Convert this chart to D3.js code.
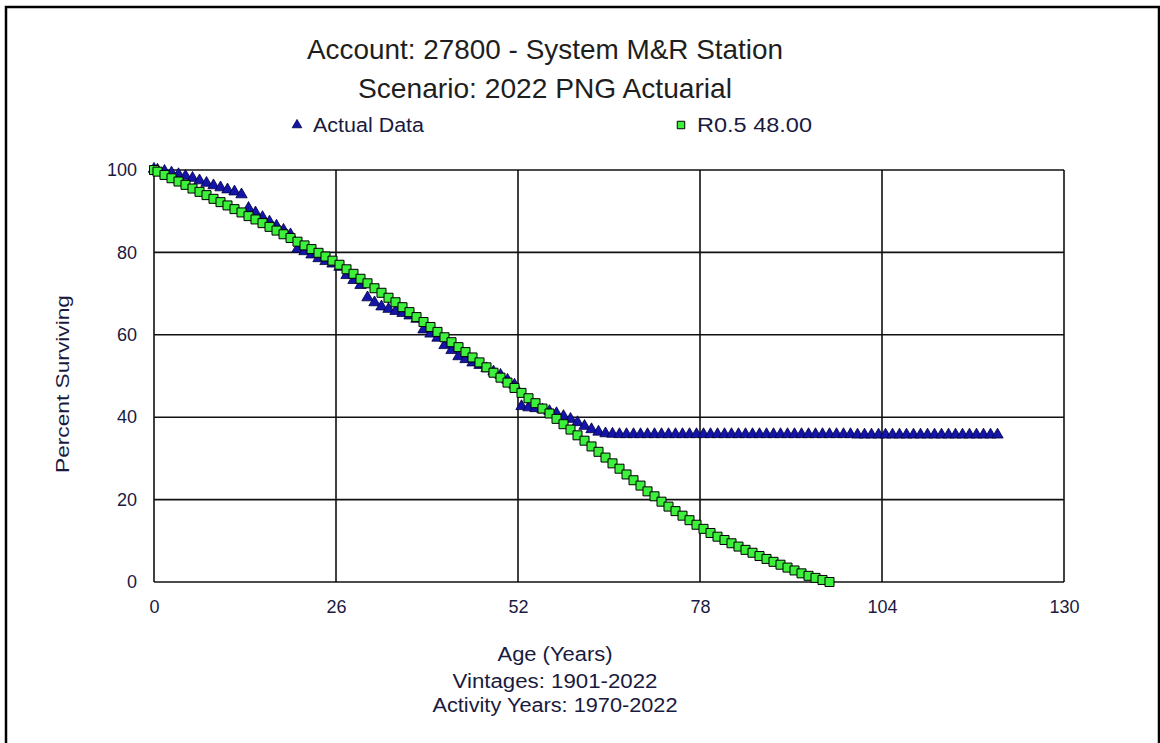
<!DOCTYPE html>
<html><head><meta charset="utf-8">
<script src="https://cdn.jsdelivr.net/npm/d3@7"></script>
<style>body{margin:0;background:#fff;} svg{display:block;}</style>
</head><body>
<svg id="c" width="1160" height="743"></svg>
<script>
const titleLines = ["Account: 27800 - System M&R Station", "Scenario: 2022 PNG Actuarial"];
const xTitleLines = ["Age (Years)", "Vintages: 1901-2022", "Activity Years: 1970-2022"];
const yTitle = "Percent Surviving";
const seriesNames = ["Actual Data", "R0.5 48.00"];
const xTicks = [0, 26, 52, 78, 104, 130];
const yTicks = [0, 20, 40, 60, 80, 100];

const actualAges = [0,0.5,1.5,2.5,3.5,4.5,5.5,6.5,7.5,8.5,9.5,10.5,11.5,12.5,13.5,14.5,15.5,16.5,17.5,18.5,19.5,
20.5,21.5,22.5,23.5,24.5,25.5,26.5,27.5,28.5,29.5,30.5,31.5,32.5,33.5,34.5,35.5,36.5,37.5,38.5,39.5,
40.5,41.5,42.5,43.5,44.5,45.5,46.5,47.5,48.5,49.5,50.5,51.5,52.5,53.5,54.5,55.5,56.5,57.5,58.5,59.5,
60.5,61.5,62.5,63.5,64.5,65.5,66.5,67.5,68.5,69.5,70.5,71.5,72.5,73.5,74.5,75.5,76.5,77.5,78.5,79.5,
80.5,81.5,82.5,83.5,84.5,85.5,86.5,87.5,88.5,89.5,90.5,91.5,92.5,93.5,94.5,95.5,96.5,97.5,98.5,99.5,
100.5,101.5,102.5,103.5,104.5,105.5,106.5,107.5,108.5,109.5,110.5,111.5,112.5,113.5,114.5,115.5,116.5,117.5,118.5,119.5,120.5];
const actualValues = [100,99.8,99.5,99.1,98.7,98.3,97.8,97.2,96.6,96.0,95.5,95.0,94.5,93.8,90.5,89.4,88.3,87.2,86.2,85.2,84.1,
80.6,80.0,79.2,78.3,77.6,77.0,76.2,74.2,73.0,71.8,68.8,67.6,66.6,66.0,65.5,65.0,64.4,63.6,61.0,60.0,
59.0,57.2,56.0,54.5,53.8,53.0,52.4,51.6,50.8,50.0,48.8,47.6,42.4,42.1,41.9,41.6,41.2,40.7,40.0,39.3,
38.5,37.6,36.8,36.2,35.8,35.7,35.6,35.6,35.6,35.6,35.6,35.6,35.6,35.6,35.6,35.6,35.6,35.6,35.6,35.6,
35.6,35.6,35.6,35.6,35.6,35.6,35.6,35.6,35.6,35.6,35.6,35.6,35.6,35.6,35.6,35.6,35.6,35.6,35.6,35.6,
35.5,35.5,35.5,35.5,35.5,35.5,35.5,35.5,35.5,35.5,35.5,35.5,35.5,35.5,35.5,35.5,35.5,35.5,35.5,35.5,35.5];

const curveAges = [0,0.5,1.5,2.5,3.5,4.5,5.5,6.5,7.5,8.5,9.5,10.5,11.5,12.5,13.5,14.5,15.5,16.5,17.5,18.5,19.5,
20.5,21.5,22.5,23.5,24.5,25.5,26.5,27.5,28.5,29.5,30.5,31.5,32.5,33.5,34.5,35.5,36.5,37.5,38.5,39.5,
40.5,41.5,42.5,43.5,44.5,45.5,46.5,47.5,48.5,49.5,50.5,51.5,52.5,53.5,54.5,55.5,56.5,57.5,58.5,59.5,
60.5,61.5,62.5,63.5,64.5,65.5,66.5,67.5,68.5,69.5,70.5,71.5,72.5,73.5,74.5,75.5,76.5,77.5,78.5,79.5,
80.5,81.5,82.5,83.5,84.5,85.5,86.5,87.5,88.5,89.5,90.5,91.5,92.5,93.5,94.5,95.5,96.5];
const curveValues = [100,99.6,98.8,98.0,97.2,96.4,95.5,94.7,93.9,93.0,92.2,91.4,90.5,89.7,88.8,88.0,87.1,86.2,85.3,84.4,83.5,
82.6,81.7,80.8,79.9,79.0,78.0,77.0,75.9,74.8,73.6,72.5,71.3,70.2,69.0,67.9,66.7,65.5,64.3,63.1,61.9,
60.7,59.4,58.2,57.0,55.8,54.5,53.3,52.1,50.8,49.6,48.4,47.1,45.9,44.6,43.4,42.1,40.9,39.6,38.3,37.0,
35.6,34.3,32.9,31.6,30.2,28.8,27.5,26.1,24.7,23.4,22.0,20.8,19.5,18.3,17.2,16.1,15.0,13.9,12.9,11.9,
11.0,10.2,9.4,8.6,7.8,7.1,6.3,5.6,4.9,4.2,3.5,2.8,2.1,1.5,1.0,0.5,0.0];

const svg = d3.select("#c");
const m = {left:154, right:1064, top:170, bottom:582};
const x = d3.scaleLinear().domain([0,130]).range([m.left, m.right]);
const y = d3.scaleLinear().domain([0,100]).range([m.bottom, m.top]);

const textCol = "#1a1a40";
const reg = "'Liberation Sans',Arial,sans-serif";

// outer frame
svg.append("rect").attr("x",6).attr("y",7).attr("width",1153).attr("height",740)
  .attr("fill","none").attr("stroke","#000").attr("stroke-width",2.5);

// titles
const titleW = [476, 374];
svg.selectAll("text.title").data(titleLines).join("text")
  .attr("x",545).attr("y",(d,i)=>59+i*39).attr("text-anchor","middle")
  .attr("font-family",reg).attr("font-size",28).attr("fill","#1e1e1e")
  .attr("textLength",(d,i)=>titleW[i]).attr("lengthAdjust","spacingAndGlyphs").text(d=>d);

// grid
const g = svg.append("g");
g.selectAll("line.vx").data(xTicks).join("line")
  .attr("x1",d=>x(d)).attr("x2",d=>x(d)).attr("y1",m.top).attr("y2",m.bottom)
  .attr("stroke","#111").attr("stroke-width",1.6);
g.selectAll("line.hy").data(yTicks).join("line")
  .attr("x1",m.left).attr("x2",m.right).attr("y1",d=>y(d)).attr("y2",d=>y(d))
  .attr("stroke","#111").attr("stroke-width",1.6);

// axes labels via d3 axes
const xAxis = d3.axisBottom(x).tickValues(xTicks).tickSize(0).tickPadding(18);
const gx = svg.append("g").attr("transform",`translate(0,${m.bottom})`).call(xAxis);
gx.select(".domain").remove();
gx.selectAll("text").attr("font-family",reg).attr("font-size",18).attr("fill",textCol);

const yAxis = d3.axisLeft(y).tickValues(yTicks).tickSize(0).tickPadding(17);
const gy = svg.append("g").attr("transform",`translate(${m.left},0)`).call(yAxis);
gy.select(".domain").remove();
gy.selectAll("text").attr("font-family",reg).attr("font-size",18).attr("fill",textCol);

// axis titles
svg.append("text").attr("transform",`translate(69,384) rotate(-90)`)
  .attr("text-anchor","middle").attr("font-family",reg).attr("font-size",19)
  .attr("textLength",178).attr("lengthAdjust","spacingAndGlyphs")
  .attr("fill",textCol).text(yTitle);
const xTitleW = [115, 205, 245];
svg.selectAll("text.xt").data(xTitleLines).join("text")
  .attr("x",555).attr("y",(d,i)=>[661,688,712][i]).attr("text-anchor","middle")
  .attr("font-family",reg).attr("font-size",20).attr("fill",textCol)
  .attr("textLength",(d,i)=>xTitleW[i]).attr("lengthAdjust","spacingAndGlyphs").text(d=>d);

// markers
const tri = d3.symbol().type(d3.symbolTriangle).size(56);
const sq = d3.symbol().type(d3.symbolSquare).size(81);
const actual = actualAges.map((a,i)=>({a, v:actualValues[i]}));
const curve = curveAges.map((a,i)=>({a, v:curveValues[i]}));

svg.append("g").selectAll("path").data(actual).join("path")
  .attr("d",tri).attr("transform",d=>`translate(${x(d.a)},${y(d.v)-1})`)
  .attr("fill","#1414a8").attr("stroke","#000040").attr("stroke-width",0.8);
svg.append("g").selectAll("path").data(curve).join("path")
  .attr("d",sq).attr("transform",d=>`translate(${x(d.a)},${y(d.v)})`)
  .attr("fill","#3cf03c").attr("stroke","#000").attr("stroke-width",1);

// legend
const leg = svg.append("g");
leg.append("path").attr("d",d3.symbol().type(d3.symbolTriangle).size(40))
  .attr("transform","translate(297,125)").attr("fill","#1414a8").attr("stroke","#000040").attr("stroke-width",0.8);
leg.append("text").attr("x",313).attr("y",132).attr("font-family",reg).attr("font-size",20)
  .attr("textLength",111).attr("lengthAdjust","spacingAndGlyphs")
  .attr("fill",textCol).text(seriesNames[0]);
leg.append("path").attr("d",d3.symbol().type(d3.symbolSquare).size(56))
  .attr("transform","translate(681,125)").attr("fill","#3cf03c").attr("stroke","#000").attr("stroke-width",1);
leg.append("text").attr("x",697).attr("y",132).attr("font-family",reg).attr("font-size",20)
  .attr("textLength",115).attr("lengthAdjust","spacingAndGlyphs")
  .attr("fill",textCol).text(seriesNames[1]);
</script>
</body></html>
